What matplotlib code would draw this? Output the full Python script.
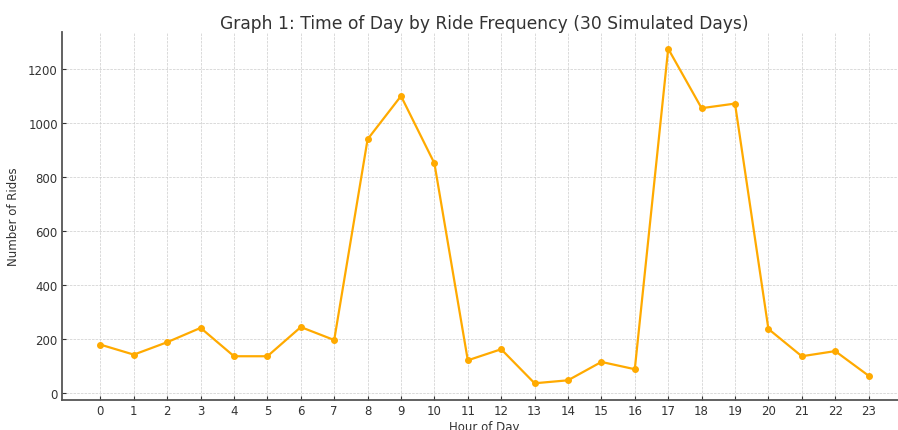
import numpy as np
import matplotlib.pyplot as plt

hours = list(range(24))
rides = [180, 143, 189, 242, 137, 137, 245, 197, 940, 1100, 851, 122,
         163, 37, 48, 116, 89, 1275, 1055, 1072, 238, 137, 156, 65]

fig = plt.figure(figsize=(8.98, 4.31), dpi=100)
ax = fig.add_axes([62 / 898, 30 / 431, 845 / 898, 368 / 431])

ax.plot(hours, rides, color='#FFAA00', linewidth=1.6, marker='o', markersize=4)

ax.set_title('Graph 1: Time of Day by Ride Frequency (30 Simulated Days)',
             fontsize=12.3, color='#333333', pad=3)
ax.set_xlabel('Hour of Day', fontsize=8.5, color='#333333', labelpad=2)
ax.set_ylabel('Number of Rides', fontsize=8.5, color='#333333', labelpad=6)
ax.set_xticks(hours)
ax.tick_params(labelsize=8.5, colors='#333333', length=3, direction='in', pad=3)

ax.grid(True, linestyle='--', linewidth=0.5, color='#cccccc')
ax.set_axisbelow(True)
for side in ['top', 'right']:
    ax.spines[side].set_visible(False)
for side in ['left', 'bottom']:
    ax.spines[side].set_color('#555555')
    ax.spines[side].set_linewidth(1.3)

fig.savefig('out.png', dpi=100)
